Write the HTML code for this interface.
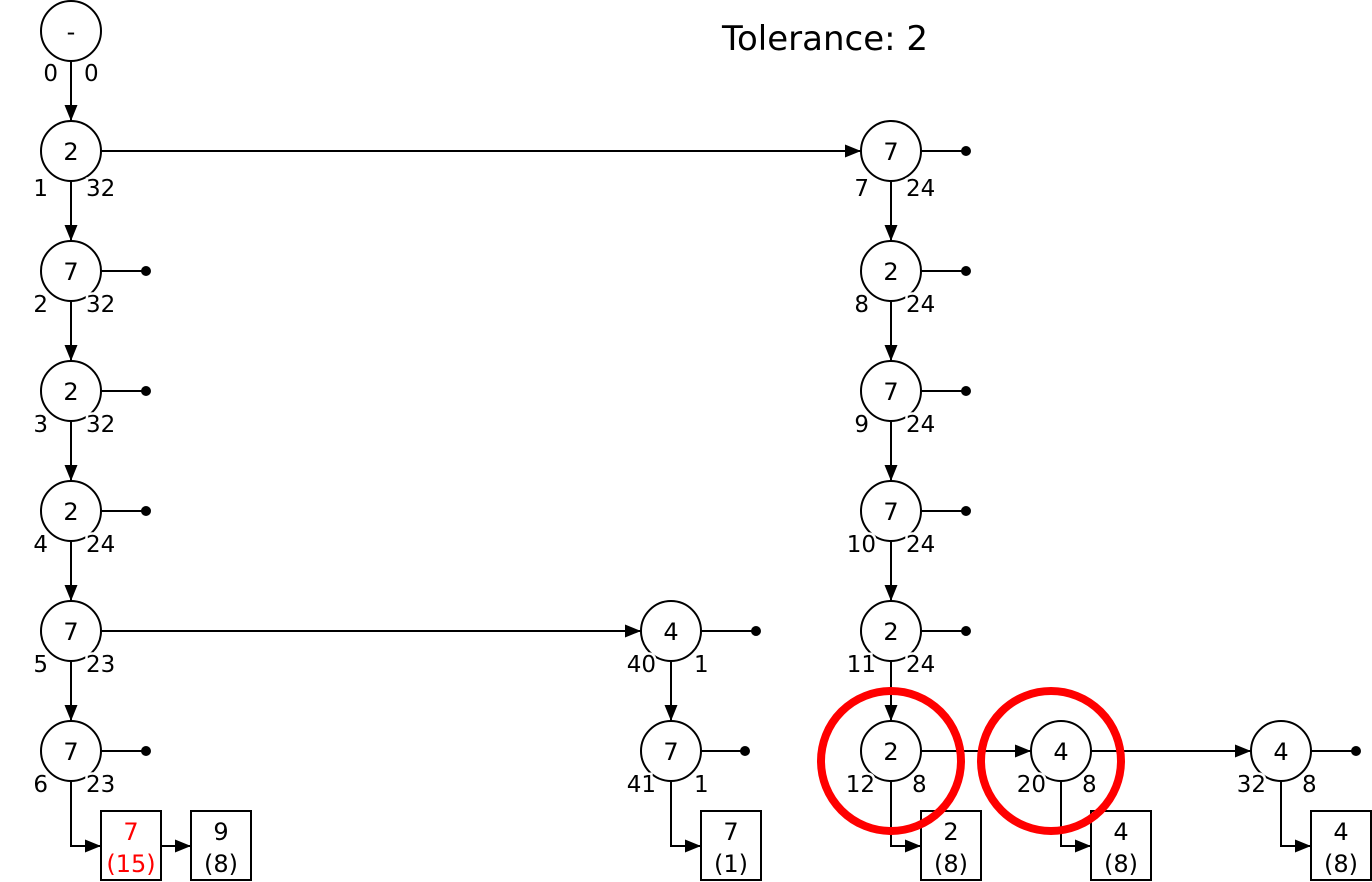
<!DOCTYPE html>
<html><head><meta charset="utf-8"><style>
html,body{margin:0;padding:0;background:#fff;}
svg{display:block;}
</style></head><body>
<svg width="1372" height="882" viewBox="0 0 1372 882" xmlns="http://www.w3.org/2000/svg" font-family="DejaVu Sans, Liberation Sans, sans-serif">
<defs>
<marker id="a" viewBox="0 0 16 13" refX="16" refY="6.5" markerWidth="16" markerHeight="13" markerUnits="userSpaceOnUse" orient="auto"><path d="M0,0L16,6.5L0,13z" fill="#000"/></marker>
</defs>
<text x="722" y="50" font-size="34">Tolerance: 2</text>
<g stroke="#000" stroke-width="2" fill="none">
<line x1="71" y1="61" x2="71" y2="121" marker-end="url(#a)"/>
<line x1="71" y1="181" x2="71" y2="241" marker-end="url(#a)"/>
<line x1="71" y1="301" x2="71" y2="361" marker-end="url(#a)"/>
<line x1="71" y1="421" x2="71" y2="481" marker-end="url(#a)"/>
<line x1="71" y1="541" x2="71" y2="601" marker-end="url(#a)"/>
<line x1="71" y1="661" x2="71" y2="721" marker-end="url(#a)"/>
<line x1="891" y1="181" x2="891" y2="241" marker-end="url(#a)"/>
<line x1="891" y1="301" x2="891" y2="361" marker-end="url(#a)"/>
<line x1="891" y1="421" x2="891" y2="481" marker-end="url(#a)"/>
<line x1="891" y1="541" x2="891" y2="601" marker-end="url(#a)"/>
<line x1="891" y1="661" x2="891" y2="721" marker-end="url(#a)"/>
<line x1="671" y1="661" x2="671" y2="721" marker-end="url(#a)"/>
<line x1="101" y1="151" x2="861" y2="151" marker-end="url(#a)"/>
<line x1="101" y1="631" x2="641" y2="631" marker-end="url(#a)"/>
<line x1="921" y1="751" x2="1031" y2="751" marker-end="url(#a)"/>
<line x1="1091" y1="751" x2="1251" y2="751" marker-end="url(#a)"/>
<line x1="101" y1="271" x2="146" y2="271"/>
<line x1="101" y1="391" x2="146" y2="391"/>
<line x1="101" y1="511" x2="146" y2="511"/>
<line x1="101" y1="751" x2="146" y2="751"/>
<line x1="921" y1="151" x2="966" y2="151"/>
<line x1="921" y1="271" x2="966" y2="271"/>
<line x1="921" y1="391" x2="966" y2="391"/>
<line x1="921" y1="511" x2="966" y2="511"/>
<line x1="921" y1="631" x2="966" y2="631"/>
<line x1="701" y1="631" x2="756" y2="631"/>
<line x1="701" y1="751" x2="745" y2="751"/>
<line x1="1311" y1="751" x2="1356" y2="751"/>
<polyline points="71,781 71,846 101,846" marker-end="url(#a)"/>
<line x1="161" y1="846" x2="191" y2="846" marker-end="url(#a)"/>
<polyline points="671,781 671,846 701,846" marker-end="url(#a)"/>
<polyline points="891,781 891,846 921,846" marker-end="url(#a)"/>
<polyline points="1061,781 1061,846 1091,846" marker-end="url(#a)"/>
<polyline points="1281,781 1281,846 1311,846" marker-end="url(#a)"/>
<circle cx="71" cy="31" r="30"/>
<circle cx="71" cy="151" r="30"/>
<circle cx="71" cy="271" r="30"/>
<circle cx="71" cy="391" r="30"/>
<circle cx="71" cy="511" r="30"/>
<circle cx="71" cy="631" r="30"/>
<circle cx="71" cy="751" r="30"/>
<circle cx="891" cy="151" r="30"/>
<circle cx="891" cy="271" r="30"/>
<circle cx="891" cy="391" r="30"/>
<circle cx="891" cy="511" r="30"/>
<circle cx="891" cy="631" r="30"/>
<circle cx="891" cy="751" r="30"/>
<circle cx="1061" cy="751" r="30"/>
<circle cx="1281" cy="751" r="30"/>
<circle cx="671" cy="631" r="30"/>
<circle cx="671" cy="751" r="30"/>
<rect x="101" y="811" width="60" height="69"/>
<rect x="191" y="811" width="60" height="69"/>
<rect x="701" y="811" width="60" height="69"/>
<rect x="921" y="811" width="60" height="69"/>
<rect x="1091" y="811" width="60" height="69"/>
<rect x="1311" y="811" width="60" height="69"/>
</g>
<g fill="#000">
<circle cx="146" cy="271" r="5"/><circle cx="146" cy="391" r="5"/><circle cx="146" cy="511" r="5"/><circle cx="146" cy="751" r="5"/>
<circle cx="966" cy="151" r="5"/><circle cx="966" cy="271" r="5"/><circle cx="966" cy="391" r="5"/><circle cx="966" cy="511" r="5"/><circle cx="966" cy="631" r="5"/>
<circle cx="756" cy="631" r="5"/><circle cx="745" cy="751" r="5"/><circle cx="1356" cy="751" r="5"/>
</g>
<g font-size="24" text-anchor="middle" fill="#000">
<text x="71" y="40">-</text>
<text x="71" y="160">2</text><text x="71" y="280">7</text><text x="71" y="400">2</text><text x="71" y="520">2</text><text x="71" y="640">7</text><text x="71" y="760">7</text>
<text x="891" y="160">7</text><text x="891" y="280">2</text><text x="891" y="400">7</text><text x="891" y="520">7</text><text x="891" y="640">2</text><text x="891" y="760">2</text>
<text x="1061" y="760">4</text><text x="1281" y="760">4</text>
<text x="671" y="640">4</text><text x="671" y="760">7</text>
<text x="131" y="840" fill="#f00">7</text><text x="131" y="872" fill="#f00">(15)</text>
<text x="221" y="840">9</text><text x="221" y="872">(8)</text>
<text x="731" y="840">7</text><text x="731" y="872">(1)</text>
<text x="951" y="840">2</text><text x="951" y="872">(8)</text>
<text x="1121" y="840">4</text><text x="1121" y="872">(8)</text>
<text x="1341" y="840">4</text><text x="1341" y="872">(8)</text>
</g>
<g font-size="23" fill="#000" stroke="#fff" stroke-width="5" paint-order="stroke" text-anchor="end">
<text x="58" y="81">0</text><text x="48" y="196">1</text><text x="48" y="312">2</text><text x="48" y="432">3</text><text x="48" y="552">4</text><text x="48" y="672">5</text><text x="48" y="792">6</text>
<text x="869" y="196">7</text><text x="869" y="312">8</text><text x="869" y="432">9</text><text x="876" y="552">10</text><text x="876" y="672">11</text><text x="875" y="792">12</text>
<text x="1046" y="792">20</text><text x="1266" y="792">32</text>
<text x="656" y="672">40</text><text x="656" y="792">41</text>
</g>
<g font-size="23" fill="#000" stroke="#fff" stroke-width="5" paint-order="stroke">
<text x="84" y="81">0</text><text x="86" y="196">32</text><text x="86" y="312">32</text><text x="86" y="432">32</text><text x="86" y="552">24</text><text x="86" y="672">23</text><text x="86" y="792">23</text>
<text x="906" y="196">24</text><text x="906" y="312">24</text><text x="906" y="432">24</text><text x="906" y="552">24</text><text x="906" y="672">24</text><text x="912" y="792">8</text>
<text x="1082" y="792">8</text><text x="1302" y="792">8</text>
<text x="694" y="672">1</text><text x="694" y="792">1</text>
</g>
<g stroke="#f00" stroke-width="8" fill="none">
<circle cx="891" cy="761" r="70"/>
<circle cx="1051" cy="761" r="70"/>
</g>
</svg>
</body></html>
